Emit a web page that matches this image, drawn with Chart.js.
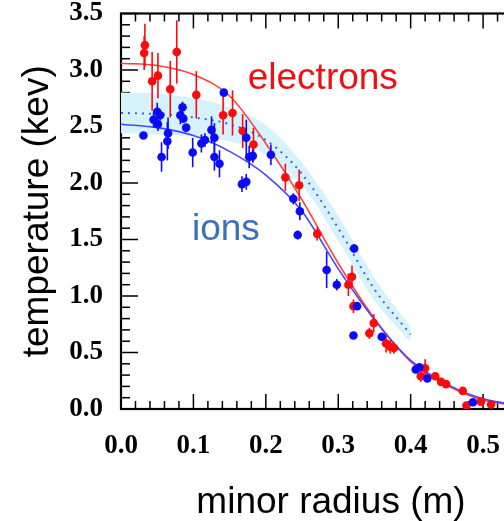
<!DOCTYPE html>
<html><head><meta charset="utf-8">
<script src="https://cdn.jsdelivr.net/npm/chart.js@4.4.1/dist/chart.umd.min.js"></script>
<style>
html,body{margin:0;padding:0;overflow:hidden;background:#fff;width:504px;height:521px}
#wrap{position:absolute;left:0;top:0;width:560px;height:521px}
</style></head><body>
<div id="wrap"><canvas id="c" width="560" height="521"></canvas></div>
<script>
// ---- tick labels ----
const xTickValues = [0.0, 0.1, 0.2, 0.3, 0.4, 0.5];
const yTickValues = [0.0, 0.5, 1.0, 1.5, 2.0, 2.5, 3.0, 3.5];

// ---- electron measurements ----
const elecR   = [0.033,0.032,0.043,0.051,0.068,0.077,0.104,0.141,0.154,0.168,0.183,0.227,0.246,0.271,0.319,0.314,0.321,0.349,0.343,0.366,0.372,0.377,0.414,0.420,0.434,0.442,0.449,0.472,0.477,0.497,0.511];
const elecT   = [3.22,3.15,2.90,2.95,2.83,3.16,2.78,2.60,2.62,2.46,2.34,2.05,1.98,1.55,1.17,1.10,0.91,0.76,0.67,0.58,0.55,0.54,0.29,0.36,0.29,0.24,0.22,0.16,0.03,0.065,0.04];
const elecErr = [0.19,0.15,0.26,0.20,0.25,0.28,0.21,0.17,0.20,0.15,0.15,0.12,0.14,0.06,0.10,0.10,0.06,0.08,0.05,0.08,0.06,0.05,0.05,0.08,0,0,0,0,0.03,0.03,0];

// ---- ion measurements ----
const ionR   = [0.142,0.031,0.045,0.050,0.054,0.051,0.056,0.065,0.064,0.085,0.082,0.086,0.090,0.099,0.111,0.116,0.125,0.129,0.129,0.136,0.167,0.173,0.173,0.177,0.182,0.207,0.238,0.247,0.244,0.284,0.298,0.322,0.326,0.321,0.360,0.407,0.412,0.423,0.486];
const ionT   = [2.80,2.42,2.56,2.63,2.60,2.52,2.23,2.44,2.37,2.67,2.60,2.57,2.49,2.27,2.35,2.38,2.47,2.40,2.23,2.17,1.99,2.01,2.40,2.23,2.24,2.25,1.86,1.75,1.54,1.23,1.10,1.42,0.91,0.65,0.64,0.35,0.37,0.27,0.06];
const ionErr = [0,0,0.07,0.08,0.05,0.06,0.13,0.14,0.17,0.05,0.08,0,0,0.13,0.08,0.06,0.12,0.13,0.12,0.12,0.07,0.07,0.16,0.10,0.06,0.09,0.05,0.08,0.04,0.16,0.05,0.04,0,0,0,0,0,0,0];

// ---- fitted profiles ----
const fitR     = [0, 0.05, 0.1, 0.15, 0.2, 0.25, 0.3, 0.35, 0.4, 0.45, 0.5, 0.55, 0.58];
const elecFitT = [3.06, 3.04, 2.96, 2.77, 2.35, 1.85, 1.29, 0.80, 0.42, 0.21, 0.08, 0.03, 0.02];
const ionFitT  = [2.52, 2.49, 2.42, 2.28, 2.07, 1.75, 1.24, 0.79, 0.43, 0.22, 0.09, 0.035, 0.02];

// ---- shaded band with dotted centre ----
const bandR     = [0, 0.05, 0.1, 0.15, 0.2, 0.25, 0.3, 0.35, 0.4];
const bandUpper = [2.80, 2.79, 2.75, 2.67, 2.51, 2.18, 1.71, 1.16, 0.73];
const bandMid   = [2.62, 2.61, 2.58, 2.52, 2.38, 2.08, 1.60, 1.06, 0.66];
const bandLower = [2.44, 2.43, 2.41, 2.37, 2.25, 1.98, 1.49, 0.96, 0.59];

// ---- annotations ----
const labelElectrons = {text:'electrons', x:0.175, y:2.83, color:'#f01010'};
const labelIons      = {text:'ions',      x:0.098, y:1.50, color:'#3a70bd'};

const pts = (xs, ys) => xs.map((x, i) => ({x: x, y: ys[i]}));

const frameTicks = {
  id: 'frameTicks',
  beforeDatasetsDraw(chart) {
    const {ctx, chartArea: a, scales: {x, y}} = chart;
    ctx.save();
    ctx.strokeStyle = '#000';
    ctx.lineWidth = 1.5;
    const line = (x1, y1, x2, y2) => { ctx.beginPath(); ctx.moveTo(x1, y1); ctx.lineTo(x2, y2); ctx.stroke(); };
    for (let i = 0; i * 0.02 <= x.max + 1e-9; i++) {
      const px = x.getPixelForValue(i * 0.02);
      const L = (i % 5 === 0) ? 15 : 8;
      line(px, a.bottom, px, a.bottom - L);
      line(px, a.top, px, a.top + L);
    }
    for (let i = 0; i * 0.1 <= y.max + 1e-9; i++) {
      const py = y.getPixelForValue(i * 0.1);
      const L = (i % 5 === 0) ? 17 : 9;
      line(a.left, py, a.left + L, py);
      line(a.right, py, a.right - L, py);
    }
    ctx.lineWidth = 2.2;
    ctx.strokeRect(a.left, a.top, a.right - a.left, a.bottom - a.top);
    ctx.restore();
  },
  beforeDatasetDraw(chart, args) {
    const ds = chart.data.datasets[args.index];
    if (!ds.errors) return;
    const {ctx, scales: {x, y}} = chart;
    ctx.save();
    ctx.strokeStyle = ds.backgroundColor;
    ctx.lineWidth = 1.6;
    ds.data.forEach((p, i) => {
      const e = ds.errors[i];
      if (!e) return;
      const px = x.getPixelForValue(p.x);
      ctx.beginPath();
      ctx.moveTo(px, y.getPixelForValue(p.y - e));
      ctx.lineTo(px, y.getPixelForValue(p.y + e));
      ctx.stroke();
    });
    ctx.restore();
  },
  afterDatasetsDraw(chart) {
    const {ctx, scales: {x, y}} = chart;
    ctx.save();
    ctx.font = '37px "Liberation Sans", Arial, sans-serif';
    ctx.textBaseline = 'alphabetic';
    ctx.textAlign = 'left';
    [labelElectrons, labelIons].forEach(l => {
      ctx.fillStyle = l.color;
      ctx.fillText(l.text, x.getPixelForValue(l.x), y.getPixelForValue(l.y));
    });
    ctx.restore();
  }
};

const tickFont = {family: '"Liberation Serif", "Times New Roman", serif', size: 27, weight: 'bold', lineHeight: 1.2};
const titleFont = {family: '"Liberation Sans", Arial, sans-serif', size: 37, lineHeight: 1};

new Chart(document.getElementById('c'), {
  type: 'scatter',
  data: {
    datasets: [
      {label: 'ions', data: pts(ionR, ionT), errors: ionErr, backgroundColor: '#0a0aff', borderColor: '#0a0aff',
       pointRadius: 4.3, pointBorderWidth: 0, order: 1},
      {label: 'electrons', data: pts(elecR, elecT), errors: elecErr, backgroundColor: '#ff0a0a', borderColor: '#ff0a0a',
       pointRadius: 4.3, pointBorderWidth: 0, order: 2},
      {label: 'ion fit', data: pts(fitR, ionFitT), showLine: true, borderColor: '#4646ff', borderWidth: 1.6,
       pointRadius: 0, cubicInterpolationMode: 'monotone', fill: false, order: 3},
      {label: 'electron fit', data: pts(fitR, elecFitT), showLine: true, borderColor: '#ff4040', borderWidth: 1.6,
       pointRadius: 0, cubicInterpolationMode: 'monotone', fill: false, order: 4},
      {label: 'model', data: pts(bandR, bandMid), showLine: true, borderColor: '#4a5cf5', borderWidth: 2,
       borderDash: [2, 5], pointRadius: 0, cubicInterpolationMode: 'monotone', fill: false, order: 5},
      {label: 'band upper', data: pts(bandR, bandUpper), showLine: true, borderWidth: 0, borderColor: 'rgba(0,0,0,0)',
       backgroundColor: '#d6f3fc', pointRadius: 0, cubicInterpolationMode: 'monotone', fill: '+1', order: 6},
      {label: 'band lower', data: pts(bandR, bandLower), showLine: true, borderWidth: 0, borderColor: 'rgba(0,0,0,0)',
       pointRadius: 0, cubicInterpolationMode: 'monotone', fill: false, order: 7}
    ]
  },
  options: {
    responsive: false,
    animation: false,
    devicePixelRatio: 1,
    layout: {padding: {top: 13.5, right: 19, left: 0, bottom: 0}},
    plugins: {legend: {display: false}, tooltip: {enabled: false}},
    scales: {
      x: {
        type: 'linear', min: 0, max: 0.58,
        afterFit: s => { s.height = 112; s.paddingLeft = 0; s.paddingRight = 0; },
        grid: {display: false}, border: {display: false},
        afterBuildTicks: s => { s.ticks = xTickValues.map(v => ({value: v})); },
        ticks: {color: '#000', font: tickFont, padding: 13, maxRotation: 0, autoSkip: false,
                callback: v => Number(v).toFixed(1)},
        title: {display: true, text: 'minor radius (m)', color: '#000', font: titleFont, padding: {top: 0, bottom: 0}}
      },
      y: {
        type: 'linear', min: 0, max: 3.5,
        afterFit: s => { s.width = 121; s.paddingTop = 0; s.paddingBottom = 0; },
        grid: {display: false}, border: {display: false},
        afterBuildTicks: s => { s.ticks = yTickValues.map(v => ({value: v})); },
        ticks: {color: '#000', font: tickFont, padding: 10, autoSkip: false,
                callback: v => Number(v).toFixed(1)},
        title: {display: true, text: 'temperature (kev)', color: '#000', font: titleFont, padding: {top: 19, bottom: 0}}
      }
    }
  },
  plugins: [frameTicks]
});
</script>
</body></html>
